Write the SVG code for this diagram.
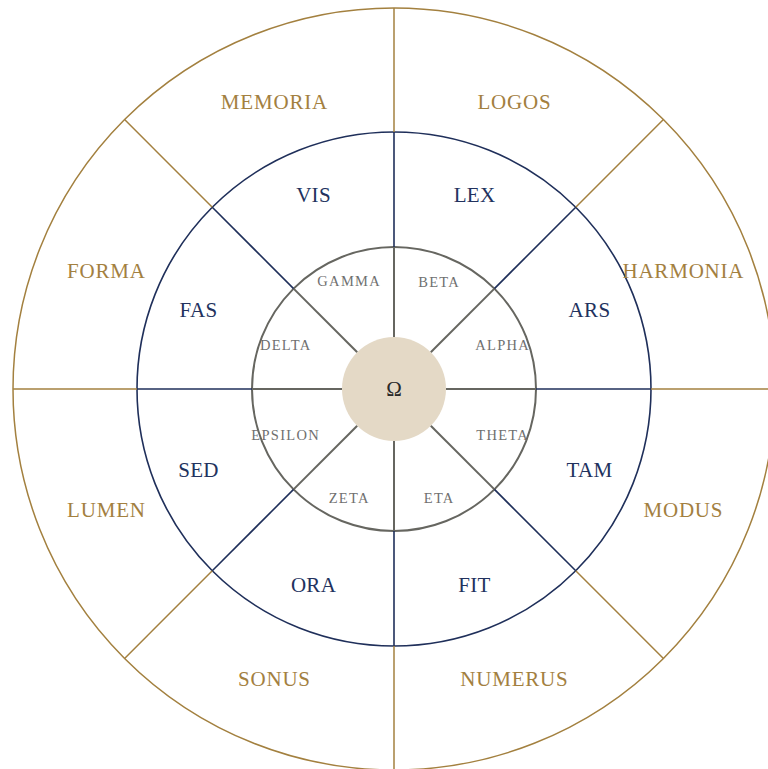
<svg xmlns="http://www.w3.org/2000/svg" width="768" height="769" viewBox="0 0 768 769">
<style>
text{font-family:"Liberation Serif","Times New Roman",serif;text-anchor:middle;dominant-baseline:central}
.g{fill:#A3803F;font-size:21px;letter-spacing:0.8px}
.n{fill:#22325E;font-size:21px;letter-spacing:0.3px}
.s{fill:#707070;font-size:14.5px;letter-spacing:1.3px}
.gl{stroke:#A3803F;stroke-width:1.5;fill:none}
.nl{stroke:#1F2F5A;stroke-width:1.6;fill:none}
.sl{stroke:#666660;stroke-width:2;fill:none}
</style>
<rect width="768" height="769" fill="#fff"/>
<g id="rings">
<circle id="outer-ring" class="gl" cx="394" cy="389" r="381"/>
<circle id="middle-ring" class="nl" cx="394" cy="389" r="257"/>
<circle id="inner-ring" class="sl" cx="394" cy="389" r="142" stroke-width="1.6"/>
</g>
<g id="connectors">
<g class="gl">
<line x1="394" y1="132" x2="394" y2="8"/>
<line x1="394" y1="646" x2="394" y2="770"/>
<line x1="137" y1="389" x2="13" y2="389"/>
<line x1="651" y1="389" x2="775" y2="389"/>
<line x1="212.27" y1="207.27" x2="124.59" y2="119.59"/>
<line x1="575.73" y1="207.27" x2="663.41" y2="119.59"/>
<line x1="212.27" y1="570.73" x2="124.59" y2="658.41"/>
<line x1="575.73" y1="570.73" x2="663.41" y2="658.41"/>
</g>
<g class="nl">
<line x1="394" y1="247" x2="394" y2="132"/>
<line x1="394" y1="531" x2="394" y2="646"/>
<line x1="252" y1="389" x2="137" y2="389"/>
<line x1="536" y1="389" x2="651" y2="389"/>
<line x1="293.59" y1="288.59" x2="212.27" y2="207.27"/>
<line x1="494.41" y1="288.59" x2="575.73" y2="207.27"/>
<line x1="293.59" y1="489.41" x2="212.27" y2="570.73"/>
<line x1="494.41" y1="489.41" x2="575.73" y2="570.73"/>
</g>
<g class="sl">
<line x1="394" y1="337" x2="394" y2="247"/>
<line x1="394" y1="441" x2="394" y2="531"/>
<line x1="342" y1="389" x2="252" y2="389"/>
<line x1="446" y1="389" x2="536" y2="389"/>
<line x1="357.23" y1="352.23" x2="293.59" y2="288.59"/>
<line x1="430.77" y1="352.23" x2="494.41" y2="288.59"/>
<line x1="357.23" y1="425.77" x2="293.59" y2="489.41"/>
<line x1="430.77" y1="425.77" x2="494.41" y2="489.41"/>
</g>
</g>
<g id="center">
<circle cx="394" cy="389" r="52" fill="#E4D9C6"/>
<text x="394" y="389" fill="#2A2A2A" font-size="21">Ω</text>
</g>
<g id="outer-labels">
<g id="memoria"><text class="g" x="274.4" y="102">MEMORIA</text></g>
<g id="logos"><text class="g" x="514.4" y="102">LOGOS</text></g>
<g id="harmonia"><text class="g" x="683.4" y="271">HARMONIA</text></g>
<g id="modus"><text class="g" x="683.4" y="510">MODUS</text></g>
<g id="numerus"><text class="g" x="514.4" y="679">NUMERUS</text></g>
<g id="sonus"><text class="g" x="274.4" y="679">SONUS</text></g>
<g id="lumen"><text class="g" x="106.4" y="510">LUMEN</text></g>
<g id="forma"><text class="g" x="106.4" y="271">FORMA</text></g>
</g>
<g id="middle-labels">
<g id="vis"><text class="n" x="313.5" y="195">VIS</text></g>
<g id="lex"><text class="n" x="474.5" y="195">LEX</text></g>
<g id="ars"><text class="n" x="589.5" y="310">ARS</text></g>
<g id="tam"><text class="n" x="589.5" y="470">TAM</text></g>
<g id="fit"><text class="n" x="474.5" y="585">FIT</text></g>
<g id="ora"><text class="n" x="313.5" y="585">ORA</text></g>
<g id="sed"><text class="n" x="198.5" y="470">SED</text></g>
<g id="fas"><text class="n" x="198.5" y="310">FAS</text></g>
</g>
<g id="inner-labels">
<g id="gamma"><text class="s" x="349.2" y="281">GAMMA</text></g>
<g id="beta"><text class="s" x="439.2" y="282">BETA</text></g>
<g id="alpha"><text class="s" x="502.7" y="345">ALPHA</text></g>
<g id="theta"><text class="s" x="502.7" y="435">THETA</text></g>
<g id="eta"><text class="s" x="439.2" y="498">ETA</text></g>
<g id="zeta"><text class="s" x="349.2" y="498">ZETA</text></g>
<g id="epsilon"><text class="s" x="285.7" y="435">EPSILON</text></g>
<g id="delta"><text class="s" x="285.7" y="345">DELTA</text></g>
</g>
</svg>
